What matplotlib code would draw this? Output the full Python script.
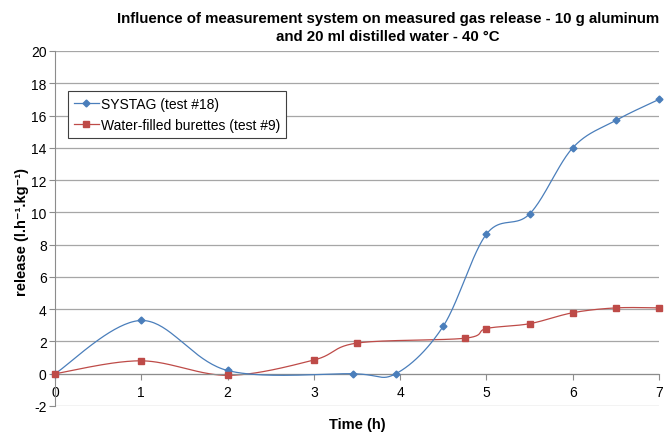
import numpy as np
import matplotlib
matplotlib.use("Agg")
import matplotlib.pyplot as plt
from matplotlib.lines import Line2D

plt.rcParams['font.family'] = ['Liberation Sans', 'DejaVu Sans']
plt.rcParams['axes.unicode_minus'] = False

# Data
systag_t = [0, 1, 2, 3.45, 3.95, 4.5, 5, 5.5, 6, 6.5, 7]
systag_v = [0, 3.3, 0.2, 0.0, 0.0, 2.95, 8.65, 9.9, 14.0, 15.7, 17.0]
water_t = [0, 1, 2, 3, 3.5, 4.75, 5, 5.5, 6, 6.5, 7]
water_v = [0, 0.8, -0.1, 0.85, 1.9, 2.2, 2.8, 3.1, 3.78, 4.08, 4.08]
labels = ['SYSTAG (test #18)', 'Water-filled burettes (test #9)']
title = 'Influence of measurement system on measured gas release - 10 g aluminum\nand 20 ml distilled water - 40 °C'
xticks = [0, 1, 2, 3, 4, 5, 6, 7]
yticks = list(range(-2, 21, 2))

BLUE = '#4a7ebb'
RED = '#be4b48'


def smooth(xs, ys, n=40):
    P = np.column_stack([xs, ys]).astype(float)
    m = len(P)
    out = [P[0]]
    for i in range(m - 1):
        p0 = P[i - 1] if i > 0 else P[i]
        p1 = P[i]
        p2 = P[i + 1]
        p3 = P[i + 2] if i + 2 < m else P[i + 1]
        c1 = p1 + (p2 - p0) / 6.0
        c2 = p2 - (p3 - p1) / 6.0
        t = np.linspace(0, 1, n)[1:, None]
        seg = ((1 - t) ** 3) * p1 + 3 * ((1 - t) ** 2) * t * c1 + 3 * (1 - t) * t ** 2 * c2 + t ** 3 * p2
        out.extend(seg)
    out = np.array(out)
    return out[:, 0], out[:, 1]


fig = plt.figure(figsize=(6.68, 4.35), dpi=100)
ax = fig.add_axes([55 / 668, 1 - 407 / 435, (659 - 55) / 668, (407 - 52) / 435])

ax.set_xlim(0, 7)
ax.set_ylim(-2, 20)
ax.set_yticks(yticks)
ax.set_xticks(xticks)
for y in yticks:
    ax.axhline(y, color='#a6a6a6', lw=0.9, zorder=0)

for s in ['top', 'right']:
    ax.spines[s].set_visible(False)
ax.spines['left'].set_color('#8c8c8c')
ax.spines['bottom'].set_color('#8c8c8c')
ax.spines['bottom'].set_position(('data', 0))
ax.tick_params(axis='y', length=4, color='#8c8c8c', labelsize=10, pad=2)
ax.tick_params(axis='x', length=4, color='#8c8c8c', direction='out', labelsize=10, pad=4)

sx, sy = smooth(systag_t, systag_v)
wx, wy = smooth(water_t, water_v)
ax.plot(sx, sy, color=BLUE, lw=0.9, zorder=3, clip_on=False)
ax.plot(wx, wy, color=RED, lw=0.9, zorder=2, clip_on=False)
ax.plot(systag_t, systag_v, ls='none', marker='D', ms=3.5, color=BLUE, zorder=4, clip_on=False)
ax.plot(water_t, water_v, ls='none', marker='s', ms=4.5, color=RED, zorder=4, clip_on=False)

h1 = Line2D([], [], color=BLUE, lw=0.9, marker='D', ms=3.5)
h2 = Line2D([], [], color=RED, lw=0.9, marker='s', ms=4.5)
leg = ax.legend([h1, h2], labels, loc='upper left', bbox_to_anchor=(13 / 604, 1 - 40 / 355),
                fontsize=10, frameon=True, fancybox=False, framealpha=1, edgecolor='#404040',
                handlelength=1.8, handletextpad=0.2, borderpad=0.4, labelspacing=0.55, borderaxespad=0)
leg.get_frame().set_linewidth(0.8)

fig.text(388 / 668, 1 - 12 / 435, title, ha='center', va='top', fontsize=10.8, fontweight='bold', linespacing=1.35)
fig.text(357 / 668, 1 - 425 / 435, 'Time (h)', ha='center', va='center', fontsize=10.5, fontweight='bold')
fig.text(22 / 668, 1 - 232 / 435, 'release (l.h⁻¹.kg⁻¹)', ha='center', va='center',
         rotation=90, fontsize=10.5, fontweight='bold')

fig.savefig('out.png', dpi=100)
